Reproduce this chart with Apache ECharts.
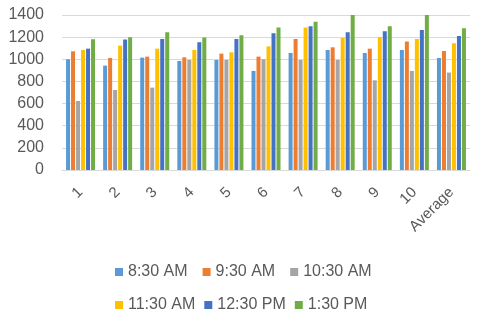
<!DOCTYPE html>
<html><head><meta charset="utf-8">
<script src="https://cdn.jsdelivr.net/npm/echarts@6/dist/echarts.min.js"></script>
<style>html,body{margin:0;padding:0;background:#fff}#c{width:480px;height:315px}</style>
</head><body><div id="c"></div>
<script>
var categories = ['1','2','3','4','5','6','7','8','9','10','Average'];
var seriesNames = ['8:30 AM','9:30 AM','10:30 AM','11:30 AM','12:30 PM','1:30 PM'];
var s830  = [1000, 943,1015, 985, 994, 895,1057,1084,1057,1084,1012];
var s930  = [1072,1012,1024,1018,1051,1024,1184,1108,1096,1160,1075];
var s1030 = [ 623, 723, 744, 994, 994,1000, 994, 994, 810, 895, 880];
var s1130 = [1084,1123,1096,1084,1063,1117,1286,1193,1199,1184,1145];
var s1230 = [1096,1178,1184,1154,1184,1235,1298,1244,1253,1265,1211];
var s130  = [1181,1199,1244,1196,1217,1286,1340,1400,1298,1400,1280];
var yTicks = [0,200,400,600,800,1000,1200,1400];
var colors = ['#5B9BD5','#ED7D31','#A5A5A5','#FFC000','#4472C4','#70AD47'];
var allData = [s830,s930,s1030,s1130,s1230,s130];
var font = 'Liberation Sans, Arial, sans-serif';
var chart = echarts.init(document.getElementById('c'));
chart.setOption({
  animation:false,
  color: colors,
  grid:{left:62,right:10,top:15,bottom:145,containLabel:false},
  legend:[
    {data:seriesNames.slice(0,3),left:110,top:259,itemWidth:8,itemHeight:8,itemGap:15,icon:'rect',
     textStyle:{color:'#595959',fontSize:16,fontFamily:font}},
    {data:seriesNames.slice(3),left:110,top:292,itemWidth:8,itemHeight:8,itemGap:9,icon:'rect',
     textStyle:{color:'#595959',fontSize:16,fontFamily:font}}
  ],
  xAxis:{type:'category',data:categories,
    axisLine:{lineStyle:{color:'#d9d9d9'}},axisTick:{show:false},splitLine:{show:false},
    axisLabel:{rotate:45,color:'#595959',fontSize:15,fontFamily:font,margin:20,interval:0}},
  yAxis:{type:'value',min:0,max:1400,interval:200,
    axisLine:{show:false},axisTick:{show:false},
    splitLine:{lineStyle:{color:'#d9d9d9'}},
    axisLabel:{color:'#595959',fontSize:16,fontFamily:font,margin:18,
      formatter:function(v){return yTicks.indexOf(v)>=0?String(v):'';}}},
  series: seriesNames.map(function(n,i){
    return {name:n,type:'bar',data:allData[i],barWidth:4,barGap:'25%'};
  })
});
</script></body></html>
